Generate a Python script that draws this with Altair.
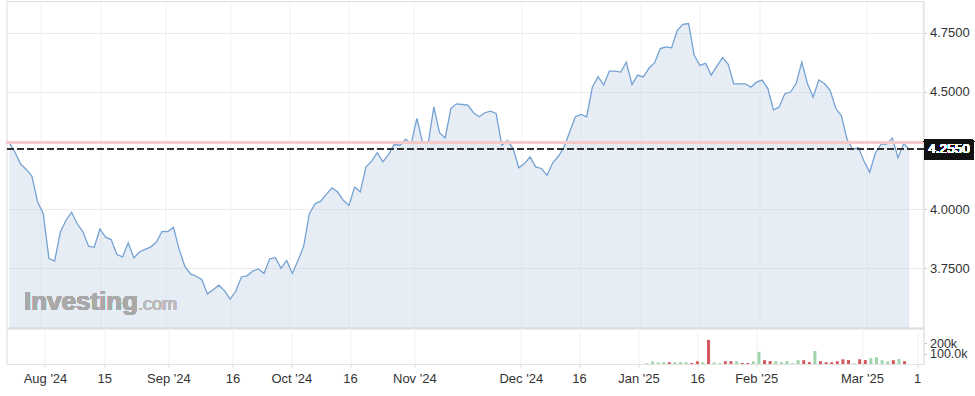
import altair as alt
import pandas as pd

# ---- data (one value per trading day) ----
closes = [
    4.283, 4.243, 4.193, 4.170, 4.141, 4.031, 3.982, 3.791, 3.780, 3.903,
    3.953, 3.988, 3.939, 3.905, 3.844, 3.839, 3.917, 3.882, 3.872, 3.808,
    3.798, 3.858, 3.794, 3.819, 3.830, 3.841, 3.862, 3.907, 3.906, 3.924,
    3.830, 3.759, 3.726, 3.716, 3.702, 3.641, 3.659, 3.678, 3.655, 3.619,
    3.652, 3.713, 3.718, 3.738, 3.747, 3.728, 3.790, 3.795, 3.750, 3.783,
    3.728, 3.783, 3.843, 3.981, 4.024, 4.035, 4.064, 4.092, 4.074, 4.039,
    4.017, 4.095, 4.075, 4.180, 4.205, 4.241, 4.202, 4.234, 4.276, 4.273,
    4.298, 4.281, 4.387, 4.286, 4.281, 4.436, 4.326, 4.304, 4.429, 4.449,
    4.446, 4.443, 4.411, 4.394, 4.411, 4.418, 4.408, 4.273, 4.293, 4.259,
    4.177, 4.195, 4.223, 4.181, 4.174, 4.145, 4.198, 4.226, 4.264, 4.330,
    4.394, 4.404, 4.394, 4.520, 4.564, 4.529, 4.588, 4.588, 4.584, 4.626,
    4.531, 4.571, 4.563, 4.600, 4.624, 4.684, 4.691, 4.687, 4.761, 4.787,
    4.790, 4.655, 4.612, 4.621, 4.571, 4.609, 4.645, 4.617, 4.534, 4.534,
    4.534, 4.520, 4.541, 4.550, 4.514, 4.423, 4.435, 4.492, 4.499, 4.535,
    4.626, 4.535, 4.477, 4.550, 4.535, 4.506, 4.430, 4.398, 4.298, 4.255,
    4.263, 4.205, 4.158, 4.240, 4.278, 4.278, 4.303, 4.220, 4.280, 4.255,
]

# volume (thousands) starts on trading day number vol_start
vol_start = 113
volume_k = [
    8, 25, 17, 17, 17, 17, 17, 17, 10, 27,
    17, 235, 15, 8, 27, 27, 27, 10, 10, 27,
    118, 37, 28, 27, 18, 27, 7, 37, 37, 18,
    126, 27, 17, 17, 27, 46, 38, 7, 46, 38,
    57, 66, 37, 27, 37, 48, 27,
]
volume_dir = [
    "up", "up", "up", "up", "down", "up", "up", "up", "down", "down",
    "up", "down", "up", "up", "down", "down", "up", "down", "down", "up",
    "up", "down", "down", "up", "up", "up", "up", "up", "down", "down",
    "up", "down", "down", "down", "down", "down", "down", "up", "down", "down",
    "up", "up", "up", "up", "down", "up", "down",
]

# x-axis ticks (in trading-day units) and their labels
tick_pos = [5.48, 16.08, 27.51, 38.99, 49.47, 59.96, 71.45, 90.46, 100.88,
            111.48, 121.98, 132.5, 151.41, 161.25]
tick_labels = ["Aug '24", "15", "Sep '24", "16", "Oct '24", "16", "Nov '24",
               "Dec '24", "16", "Jan '25", "16", "Feb '25", "Mar '25", "1"]

price_ticks = [3.75, 4.0, 4.5, 4.75]
vol_ticks = [100000, 200000]
vol_tick_labels = ["100.0k", "200k"]

last_price = 4.255
prev_close = 4.285

y_min, y_max = 3.496, 4.886
x_min, x_max = -0.5, 161.5

FONT = "Liberation Sans"
LINE = "#74a2d3"
FILL = "#c5d4e6"
GRID = "#ececec"

price_df = pd.DataFrame({"i": list(range(len(closes))), "close": closes})
vol_df = pd.DataFrame({
    "i": [vol_start + k for k in range(len(volume_k))],
    "vol": [v * 1000 for v in volume_k],
    "dir": volume_dir,
})

label_expr = " : ".join(
    f'abs(datum.value - {p}) < 0.01 ? "{lab}"' for p, lab in zip(tick_pos, tick_labels)
) + ' : ""'
vol_label_expr = " : ".join(
    f'datum.value == {v} ? "{lab}"' for v, lab in zip(vol_ticks, vol_tick_labels)
) + ' : ""'

x_scale = alt.Scale(domain=[x_min, x_max], nice=False, zero=False)
y_scale = alt.Scale(domain=[y_min, y_max], nice=False, zero=False)

x_axis_main = alt.Axis(values=tick_pos, labels=False, ticks=False, grid=True,
                       gridColor="#f1f1f1", domain=True, domainColor="#d6d6d6",
                       domainWidth=2, title=None)
y_axis_main = alt.Axis(orient="right", values=price_ticks, format=".4f",
                       grid=True, gridColor=GRID, domain=True,
                       domainColor="#e2e2e2", tickColor="#c8c8c8", tickSize=3,
                       labelPadding=3, labelFontSize=13, labelColor="#333333",
                       labelFont=FONT, title=None)

X_main = alt.X("i:Q", scale=x_scale, axis=x_axis_main)
Y_main = alt.Y("close:Q", scale=y_scale, axis=y_axis_main)

base = alt.Chart(price_df)

area = base.mark_area(color=FILL, opacity=0.42).encode(
    x=X_main, y=Y_main, y2=alt.Y2Datum(y_min)
)
line = base.mark_line(color=LINE, strokeWidth=1.3).encode(x=X_main, y=Y_main)

red_rule = alt.Chart(price_df).mark_rule(color="#f6caca", strokeWidth=1.8).encode(
    y=alt.YDatum(prev_close, title=None)
)
dash_rule = alt.Chart(price_df).mark_rule(
    color="#333333", strokeWidth=1.2, strokeDash=[6, 4]
).encode(y=alt.YDatum(last_price, title=None))

box = alt.Chart(price_df).mark_rect(
    color="#111111", yOffset=-10, y2Offset=10, cornerRadius=2
).encode(
    x=alt.value(917.5), x2=alt.value(967.5),
    y=alt.YDatum(last_price, title=None), y2=alt.Y2Datum(last_price),
)
box_text = alt.Chart(price_df).mark_text(
    color="white", fontSize=13.5, align="center", baseline="middle", font=FONT
).encode(
    x=alt.value(942.5), y=alt.YDatum(last_price, title=None),
    text=alt.value(f"{last_price:.4f}"),
)

wm1 = alt.Chart(price_df).mark_text(
    text="Investing", fontSize=26, fontWeight="bold", font=FONT,
    color="#a9a9a9", align="left", baseline="alphabetic"
).encode(x=alt.value(17.5), y=alt.value(309))
wm2 = alt.Chart(price_df).mark_text(
    text=".com", fontSize=18, fontWeight="normal", font=FONT,
    color="#bbbbbb", align="left", baseline="alphabetic"
).encode(x=alt.value(131.5), y=alt.value(309))

main = alt.layer(area, wm1, wm2, line, red_rule, dash_rule, box, box_text).properties(
    width=917, height=327
)

x_axis_vol = alt.Axis(values=tick_pos, labelExpr=label_expr, grid=True,
                      gridColor="#f1f1f1", domain=True, domainColor="#e2e2e2",
                      tickColor="#d6d6d6", tickSize=3, labelPadding=5,
                      labelFontSize=13, labelColor="#333333", labelFont=FONT,
                      labelOverlap=False, labelFlush=False, title=None)
y_axis_vol = alt.Axis(orient="right", values=vol_ticks, labelExpr=vol_label_expr,
                      grid=False, domain=True, domainColor="#e2e2e2",
                      tickColor="#c8c8c8", tickSize=3, labelPadding=3,
                      labelFontSize=12.5, labelColor="#333333", labelFont=FONT,
                      labelOverlap=False, title=None)

vol = alt.Chart(vol_df).mark_bar(size=3).encode(
    x=alt.X("i:Q", scale=x_scale, axis=x_axis_vol),
    y=alt.Y("vol:Q", scale=alt.Scale(domain=[0, 350000], nice=False), axis=y_axis_vol),
    color=alt.Color("dir:N", scale=alt.Scale(domain=["up", "down"],
                                             range=["#a0d4aa", "#d2585c"]),
                    legend=None),
).properties(width=917, height=36)

chart = alt.vconcat(main, vol, spacing=0, bounds="flush").properties(
    padding={"left": 4.5, "top": 0, "right": 0, "bottom": 0},
    background="white",
).configure_view(stroke=None).configure(font=FONT)

chart.save("out.html", embed_options={"renderer": "svg", "actions": False})
